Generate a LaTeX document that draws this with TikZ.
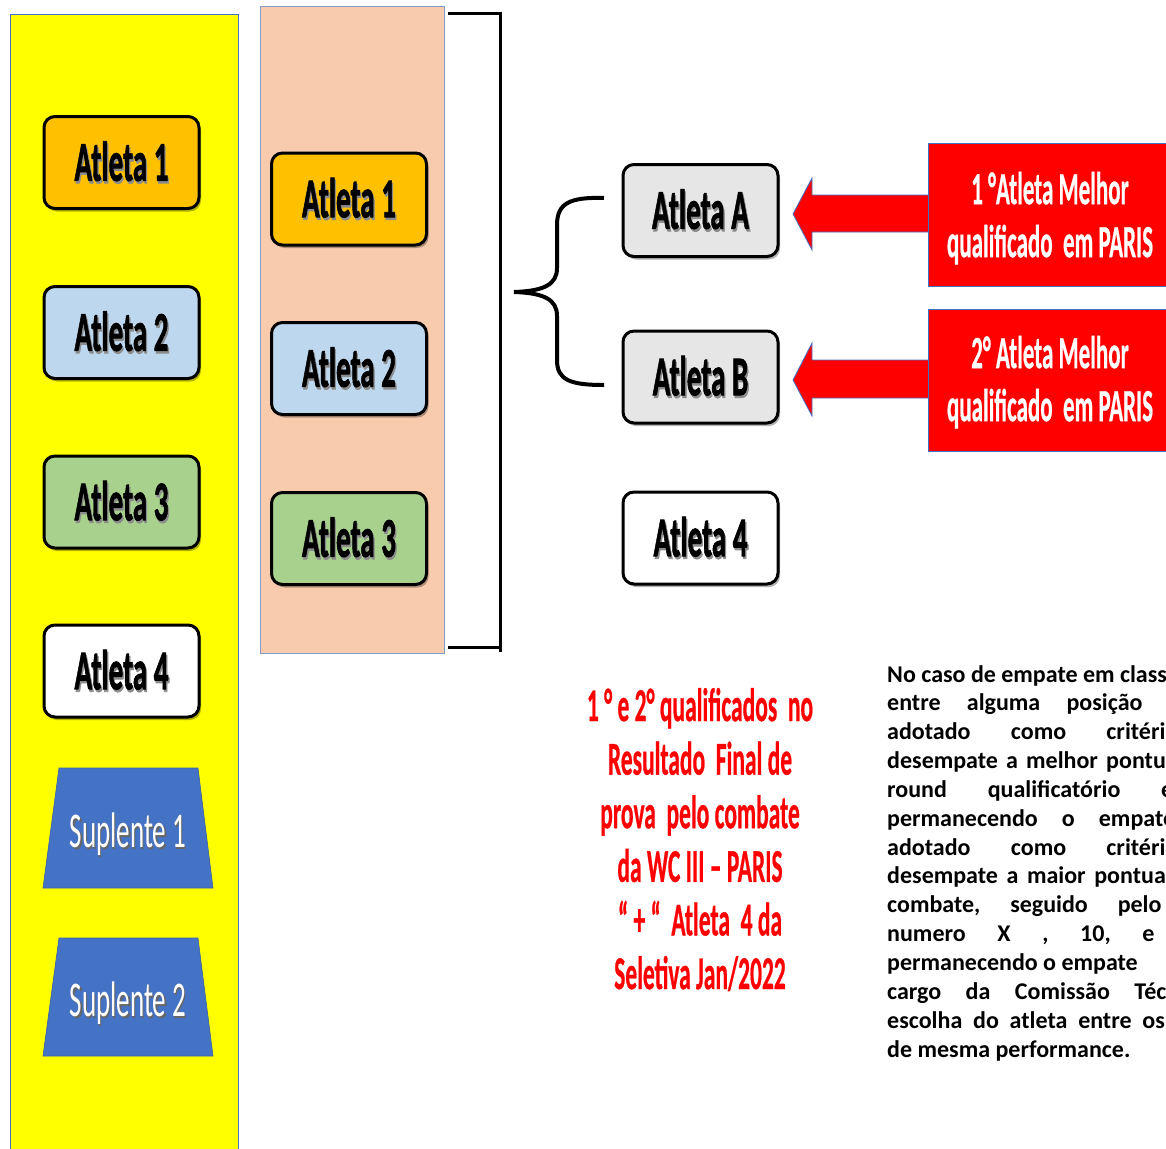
\documentclass[tikz,border=0pt]{standalone}
\usepackage{fontspec}
\setmainfont{Carlito}
\newfontfamily\heavyfont[FakeBold=1.6]{Carlito Bold}
\newfontfamily\semiheavy[FakeBold=0.8]{Carlito Bold}
\usepackage{graphicx}
\usetikzlibrary{shadows}
\definecolor{ylw}{HTML}{FFFF00}
\definecolor{peach}{HTML}{F8CBAD}
\definecolor{frameblue}{HTML}{4472C4}
\definecolor{peachframe}{HTML}{7F9DCB}
\definecolor{orng}{HTML}{FFC000}
\definecolor{lblue}{HTML}{BDD7EE}
\definecolor{lgreen}{HTML}{A9D18E}
\definecolor{lgray}{HTML}{E7E6E6}
\definecolor{supblue}{HTML}{4472C4}
\definecolor{bred}{HTML}{FF0000}
\newcommand\shadtxt[3]{\leavevmode\rlap{\kern2.5pt\raisebox{-2.5pt}{\textcolor{#1}{#3}}}\textcolor{#2}{#3}}
\newcommand\atl[1]{\scalebox{0.52}[1]{\shadtxt{black!45}{black}{#1}}}
\newcommand\gp[1]{\hspace{#1pt}}
\tikzset{
  athbox/.style={draw=black, line width=3pt, rounded corners=11pt, minimum width=155pt,
    minimum height=92pt, inner sep=0pt,
    drop shadow={shadow xshift=2pt, shadow yshift=-3pt, opacity=0.3, fill=black},
    font=\fontsize{56}{60}\selectfont\heavyfont},
  para/.style={anchor=base west, inner sep=0pt, font=\fontsize{24}{28.8}\selectfont\bfseries},
  suptxt/.style={anchor=base, inner sep=0pt, font=\fontsize{50}{56}\selectfont},
  redbox/.style={fill=bred, draw=frameblue, line width=1pt},
  whitetxt/.style={inner sep=0pt, text=white, font=\fontsize{46}{53}\selectfont\semiheavy},
}
\begin{document}
\begin{tikzpicture}[x=1pt,y=-1pt]
\useasboundingbox (0,0) rectangle (1166,1148);
\clip (0,0) rectangle (1166,1148);
\fill[white] (0,0) rectangle (1166,1148);

% panels
\path[fill=ylw, draw=frameblue, line width=1pt] (10,15) rectangle (238,1160);
\path[fill=peach, draw=peachframe, line width=1pt] (260,7) rectangle (444,653);

% bracket
\draw[line width=3pt] (448,14) -- (500,14) -- (500,652);
\draw[line width=3pt] (448,647) -- (500,647);

% left column
\node[athbox, fill=orng]   (l1) at (121.5,162.5) {\atl{Atleta 1}};
\node[athbox, fill=lblue]  (l2) at (121.5,332.5) {\atl{Atleta 2}};
\node[athbox, fill=lgreen] (l3) at (121.5,502)   {\atl{Atleta 3}};
\node[athbox, fill=white]  (l4) at (121.5,671)   {\atl{Atleta 4}};

% suplentes
\path[fill=supblue, draw=supblue!85!black, line width=0.6pt] (59,768) -- (198,768) -- (213,888) -- (43,888) -- cycle;
\node[suptxt] (s1) at (128,847) {\scalebox{0.54}[1]{\shadtxt{black!60}{white}{Suplente 1}}};
\path[fill=supblue, draw=supblue!85!black, line width=0.6pt] (59,938) -- (198,938) -- (213,1056) -- (43,1056) -- cycle;
\node[suptxt] (s2) at (128,1016) {\scalebox{0.54}[1]{\shadtxt{black!60}{white}{Suplente 2}}};

% peach column
\node[athbox, fill=orng]   (p1) at (349,199)   {\atl{Atleta 1}};
\node[athbox, fill=lblue]  (p2) at (349,368.5) {\atl{Atleta 2}};
\node[athbox, fill=lgreen] (p3) at (349,538.5) {\atl{Atleta 3}};

% right column
\node[athbox, fill=lgray] (ra) at (700.5,210.5) {\atl{Atleta A}};
\node[athbox, fill=lgray] (rb) at (700.5,377)   {\atl{Atleta B}};
\node[athbox, fill=white] (r4) at (700.5,538)   {\atl{Atleta 4}};

% brace
\draw[line width=4pt] (604,198) .. controls (570,197) and (557,203) .. (557,225) -- (557,268)
  .. controls (557,284) and (545,291) .. (514,292)
  .. controls (545,293) and (557,300) .. (557,316) -- (557,360)
  .. controls (557,380) and (570,385) .. (604,385);

% red callouts
\path[redbox, line width=0.8pt] (793,214) -- (812,178) -- (812,195) -- (930,195) -- (930,232) -- (812,232) -- (812,250) -- cycle;
\path[redbox] (928,143) rectangle (1175,286);
\node[whitetxt] (q1) at (1050,220) {\scalebox{0.5}[1]{\begin{tabular}{@{}c@{}}1 °Atleta Melhor\\qualificado~~em PARIS\end{tabular}}};

\path[redbox, line width=0.8pt] (793,380) -- (812,343) -- (812,360) -- (930,360) -- (930,398) -- (812,398) -- (812,416) -- cycle;
\path[redbox] (928,309) rectangle (1175,451);
\node[whitetxt] (q2) at (1050,384) {\scalebox{0.5}[1]{\begin{tabular}{@{}c@{}}2° Atleta Melhor\\qualificado~~em PARIS\end{tabular}}};

% red note
\node[inner sep=0pt, text=bred, font=\fontsize{47}{53.6}\selectfont\semiheavy] (note) at (700,844.3)
 {\scalebox{0.5}[1]{\begin{tabular}{@{}c@{}}1 ° e 2° qualificados~~no\\Resultado~~Final de\\prova~~pelo combate\\da WC III – PARIS\\“ + “~~Atleta~~4 da\\Seletiva Jan/2022\end{tabular}}};

% paragraph
\node[para] (t1)  at (887,682)    {No caso de empate em classificação};
\node[para] (t2)  at (887,710.85) {entre\gp{26.3}alguma\gp{26.3}posição};
\node[para] (t3)  at (887,739.7)  {adotado\gp{40.3}como\gp{40.3}critério};
\node[para] (t4)  at (887,768.55) {desempate\gp{8.2}a\gp{8.2}melhor\gp{8.2}pontuação};
\node[para] (t5)  at (887,797.4)  {round\gp{40.8}qualificatório\gp{40.8}e};
\node[para] (t6)  at (887,826.25) {permanecendo\gp{24.1}o\gp{24.1}empate};
\node[para] (t7)  at (887,855.1)  {adotado\gp{40.3}como\gp{40.3}critério};
\node[para] (t8)  at (887,883.95) {desempate\gp{8.6}a\gp{8.6}maior\gp{8.6}pontuação};
\node[para] (t9)  at (887,912.8)  {combate,\gp{29.9}seguido\gp{29.9}pelo};
\node[para] (t10) at (887,941.65) {numero\gp{31.7}X\gp{31.7},\gp{31.7}10,\gp{31.7}e};
\node[para] (t11) at (887,970.5)  {permanecendo o empate};
\node[para] (t12) at (887,999.35) {cargo\gp{24.5}da\gp{24.5}Comissão\gp{24.5}Técnica};
\node[para] (t13) at (887,1028.2) {escolha\gp{10.8}do\gp{10.8}atleta\gp{10.8}entre\gp{10.8}os};
\node[para] (t14) at (887,1057.05){de mesma performance.};
\end{tikzpicture}
\end{document}
